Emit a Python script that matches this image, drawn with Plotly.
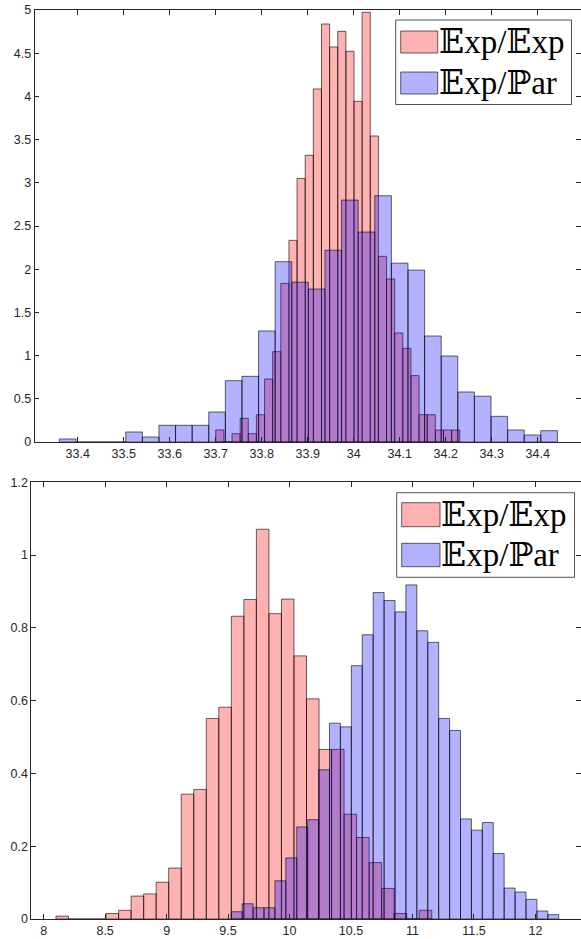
import plotly.graph_objects as go

W, H = 581, 939

# ---------------- data ----------------
series_names = ["\U0001D53Cxp/\U0001D53Cxp", "\U0001D53Cxp/\u2119ar"]

# top panel
top_red_start = 33.70
top_red_width = 0.01768
top_red = [0.139, 0, 0.096, 0.274, 0.096, 0.316, 0.729, 1.046, 1.836, 2.334,
           3.05, 3.318, 4.086, 4.838, 4.572, 4.753, 4.522, 3.943, 4.973, 3.542,
           2.149, 1.887, 1.262, 1.084, 0.768, 0.316, 0.316, 0.139, 0.139, 0.139]
top_blue_start = 33.36
top_blue_width = 0.03609
top_blue = [0.035, 0, 0, 0, 0.116, 0.058, 0.193, 0.193, 0.193, 0.347,
            0.71, 0.76, 1.285, 2.087, 1.85, 1.77, 2.22, 2.80, 2.43, 2.85,
            2.07, 1.99, 1.227, 0.995, 0.579, 0.53, 0.297, 0.139, 0.081, 0.131]

# bottom panel
bot_red_start = 8.10
bot_red_width = 0.1019
bot_red = [0.008, 0, 0, 0, 0.015, 0.024, 0.063, 0.069, 0.101, 0.14,
           0.343, 0.356, 0.551, 0.582, 0.832, 0.878, 1.071, 0.839, 0.879, 0.723,
           0.605, 0.466, 0.466, 0.288, 0.224, 0.155, 0.084, 0.015, 0, 0.024]
bot_blue_start = 9.526
bot_blue_width = 0.0888
bot_blue = [0.020, 0.042, 0.031, 0.031, 0.105, 0.168, 0.253, 0.273, 0.41, 0.538,
            0.528, 0.696, 0.781, 0.897, 0.875, 0.844, 0.918, 0.792, 0.76, 0.551,
            0.518, 0.275, 0.244, 0.265, 0.180, 0.085, 0.074, 0.054, 0.022, 0.012]

top_xticks = [33.4, 33.5, 33.6, 33.7, 33.8, 33.9, 34.0, 34.1, 34.2, 34.3, 34.4]
top_yticks = [0, 0.5, 1, 1.5, 2, 2.5, 3, 3.5, 4, 4.5, 5]
bot_xticks = [8, 8.5, 9, 9.5, 10, 10.5, 11, 11.5, 12]
bot_yticks = [0, 0.2, 0.4, 0.6, 0.8, 1.0, 1.2]

# ---------------- styling ----------------
RED = "rgba(255,0,0,0.3)"
BLUE = "rgba(0,0,255,0.3)"
EDGE = "rgba(0,0,0,0.75)"
AX = "#262626"
TICKFONT = dict(family="Liberation Sans, Arial, sans-serif", size=12.5, color=AX)
LEGFONT = dict(family="Liberation Serif, DejaVu Serif, DejaVu Sans, serif", size=33, color="black")


def centers(start, width, n):
    return [start + width * (i + 0.5) for i in range(n)]


def px_x(p):
    return p / W


def px_y(p):
    return 1 - p / H


fig = go.Figure()
for xa, ya, start, width, vals, col, nm in [
    ("x", "y", top_red_start, top_red_width, top_red, RED, series_names[0]),
    ("x", "y", top_blue_start, top_blue_width, top_blue, BLUE, series_names[1]),
    ("x2", "y2", bot_red_start, bot_red_width, bot_red, RED, series_names[0]),
    ("x2", "y2", bot_blue_start, bot_blue_width, bot_blue, BLUE, series_names[1]),
]:
    fig.add_trace(go.Bar(
        x=centers(start, width, len(vals)), y=vals, width=width,
        marker=dict(color=col, line=dict(color=EDGE, width=0.8)),
        xaxis=xa, yaxis=ya, name=nm, showlegend=False,
    ))

axis_common = dict(showline=True, linecolor=AX, linewidth=0.8, mirror="ticks",
                   ticks="inside", ticklen=5, tickcolor=AX, tickwidth=0.8,
                   showgrid=False, zeroline=False, tickfont=TICKFONT,
                   tickmode="array", automargin=False)

fig.update_layout(
    template="none",
    width=W, height=H,
    margin=dict(l=0, r=0, t=0, b=0, pad=0),
    paper_bgcolor="white", plot_bgcolor="white",
    barmode="overlay",
    xaxis=dict(axis_common, domain=[px_x(34.5), 1], range=[33.306, 34.494],
               anchor="y", tickvals=top_xticks,
               ticktext=[f"{v:g}" for v in top_xticks]),
    yaxis=dict(axis_common, domain=[px_y(442), px_y(10)], range=[0, 5],
               anchor="x", tickvals=top_yticks,
               ticktext=[f"{v:g}" for v in top_yticks]),
    xaxis2=dict(axis_common, domain=[px_x(31.3), 1], range=[7.8994, 12.371],
                anchor="y2", tickvals=bot_xticks,
                ticktext=[f"{v:g}" for v in bot_xticks]),
    yaxis2=dict(axis_common, domain=[px_y(919), px_y(482.3)], range=[0, 1.2],
                anchor="x2", tickvals=bot_yticks,
                ticktext=[f"{v:g}" for v in bot_yticks]),
)

# ---------------- legends (drawn as boxes + real text) ----------------
shapes = []
annotations = []
for box, sw_x, rows, text_x in [
    ((395.7, 20, 571.5, 104.5), (400.7, 437.7), [(31, 53), (72, 94)], 437.5),
    ((396.7, 492.7, 574.5, 577.3), (401.7, 440), [(502.7, 526.7), (543.3, 566.7)], 439.7),
]:
    x0, y0, x1, y1 = box
    shapes.append(dict(type="rect", xref="paper", yref="paper",
                       x0=px_x(x0), x1=px_x(x1), y0=px_y(y1), y1=px_y(y0),
                       fillcolor="white", line=dict(color="#262626", width=0.8),
                       layer="above"))
    for (r0, r1), col, nm in zip(rows, [RED, BLUE], series_names):
        shapes.append(dict(type="rect", xref="paper", yref="paper",
                           x0=px_x(sw_x[0]), x1=px_x(sw_x[1]),
                           y0=px_y(r1), y1=px_y(r0),
                           fillcolor=col, line=dict(color=EDGE, width=0.8),
                           layer="above"))
        annotations.append(dict(xref="paper", yref="paper",
                                x=px_x(text_x), y=px_y((r0 + r1) / 2),
                                xanchor="left", yanchor="middle",
                                text=nm, showarrow=False, font=LEGFONT,
                                borderpad=0))

fig.update_layout(shapes=shapes, annotations=annotations)
fig.write_html(
    "out.html",
    config={"displayModeBar": False},
    post_script="document.body.style.margin='0';document.body.style.overflow='hidden';",
)
